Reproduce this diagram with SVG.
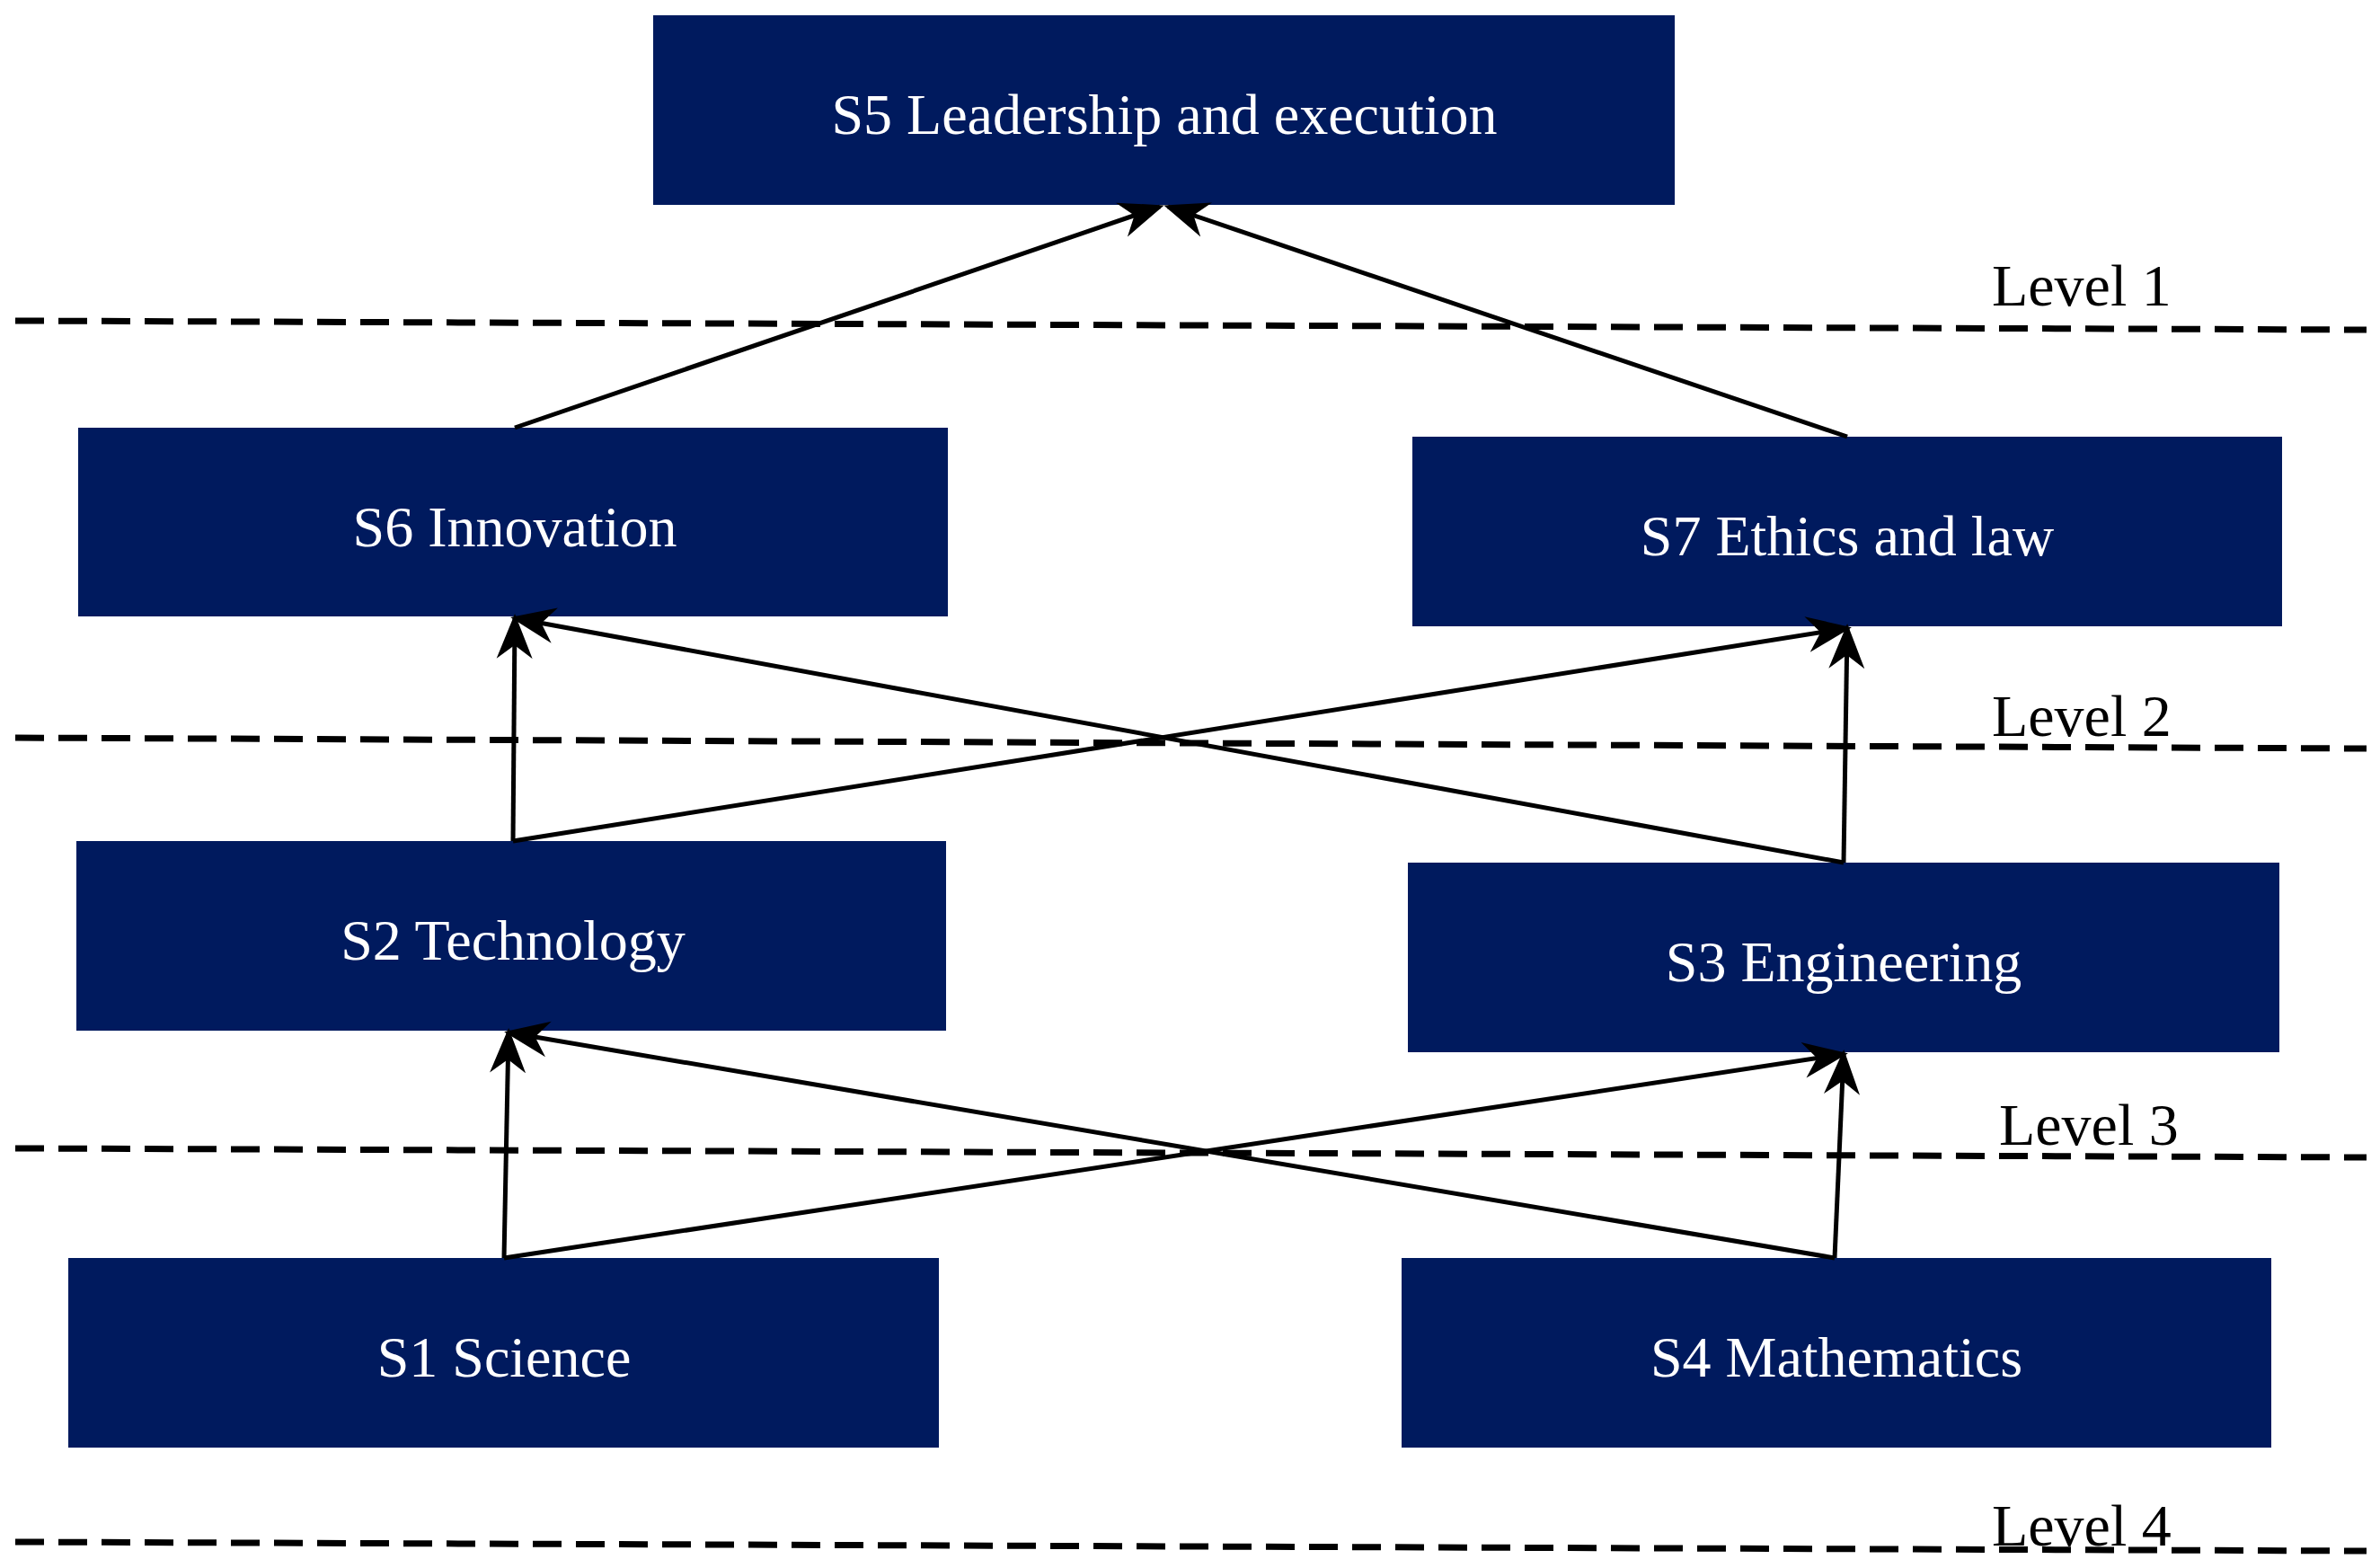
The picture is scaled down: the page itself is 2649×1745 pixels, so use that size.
<svg xmlns="http://www.w3.org/2000/svg" width="2649" height="1745" viewBox="0 0 2649 1745">
<style>
.box{fill:#001a5e}
.t{font-family:"Liberation Serif",serif;font-size:64px;fill:#fff;text-anchor:middle}
.lv{font-family:"Liberation Serif",serif;font-size:66px;fill:#000}
.dash{stroke:#000;stroke-width:7;stroke-dasharray:32 16;fill:none}
.c{stroke:#000;stroke-width:5;fill:none;marker-end:url(#ah)}
</style>
<defs>
<marker id="ah" viewBox="0 0 20 20" refX="18" refY="10" markerWidth="10" markerHeight="10" markerUnits="strokeWidth" orient="auto">
<path d="M0,2 L20,10 L0,18 L6,10 Z" fill="#000"/>
</marker>
</defs>
<g id="levels">
<line class="dash" x1="17" y1="357" x2="2634" y2="367"/>
<line class="dash" x1="17" y1="821" x2="2634" y2="833"/>
<line class="dash" x1="17" y1="1278" x2="2634" y2="1288"/>
<line class="dash" x1="17" y1="1716" x2="2634" y2="1726"/>
<text class="lv" x="2217" y="340">Level 1</text>
<text class="lv" x="2217" y="819">Level 2</text>
<text class="lv" x="2225" y="1274">Level 3</text>
<text class="lv" x="2217" y="1720">Level 4</text>
</g>
<g id="S5"><rect class="box" x="727" y="17" width="1137" height="211"/><text class="t" x="1296" y="149">S5 Leadership and execution</text></g>
<g id="S6"><rect class="box" x="87" y="476" width="968" height="210"/><text class="t" x="573" y="608">S6 Innovation</text></g>
<g id="S7"><rect class="box" x="1572" y="486" width="968" height="211"/><text class="t" x="2056" y="618">S7 Ethics and law</text></g>
<g id="S2"><rect class="box" x="85" y="936" width="968" height="211"/><text class="t" x="571" y="1068">S2 Technology</text></g>
<g id="S3"><rect class="box" x="1567" y="960" width="970" height="211"/><text class="t" x="2052" y="1092">S3 Engineering</text></g>
<g id="S1"><rect class="box" x="76" y="1400" width="969" height="211"/><text class="t" x="561" y="1532">S1 Science</text></g>
<g id="S4"><rect class="box" x="1560" y="1400" width="968" height="211"/><text class="t" x="2044" y="1532">S4 Mathematics</text></g>
<g id="connectors">
<line class="c" x1="573" y1="476" x2="1291" y2="230"/>
<line class="c" x1="2056" y1="486" x2="1300" y2="230"/>
<line class="c" x1="571" y1="936" x2="573" y2="688"/>
<line class="c" x1="571" y1="936" x2="2056" y2="699"/>
<line class="c" x1="2052" y1="960" x2="2056" y2="699"/>
<line class="c" x1="2052" y1="960" x2="573" y2="688"/>
<line class="c" x1="561" y1="1400" x2="566" y2="1149"/>
<line class="c" x1="561" y1="1400" x2="2052" y2="1173"/>
<line class="c" x1="2042" y1="1400" x2="2052" y2="1173"/>
<line class="c" x1="2042" y1="1400" x2="566" y2="1149"/>
</g>
</svg>
